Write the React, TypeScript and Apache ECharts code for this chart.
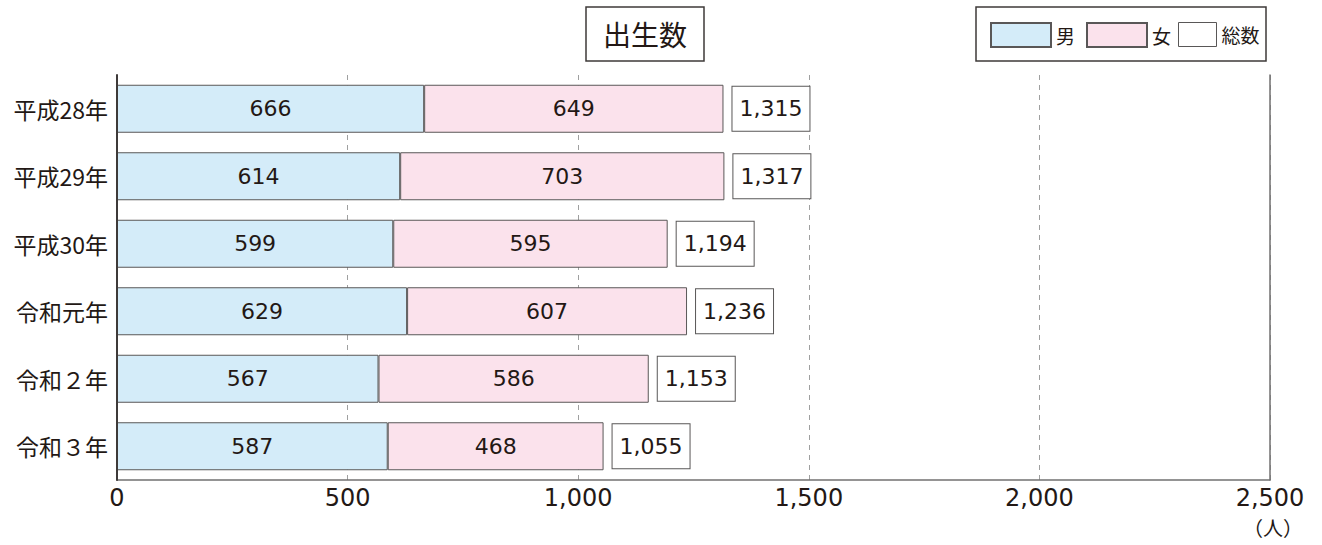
import React, { useEffect, useRef } from "react";
import * as echarts from "echarts";

const categories = ["平成28年", "平成29年", "平成30年", "令和元年", "令和２年", "令和３年"];
const maleValues = [666, 614, 599, 629, 567, 587];
const femaleValues = [649, 703, 595, 607, 586, 468];
const totalValues = [1315, 1317, 1194, 1236, 1153, 1055];
const xTicks = { min: 0, max: 2500, interval: 500 };

const TEXT = "#231815";
const CJK = "'Noto Sans CJK JP', 'Noto Sans', sans-serif";
const NUM = "'DejaVu Sans', sans-serif";

export default function App() {
  const ref = useRef<HTMLDivElement>(null);
  useEffect(() => {
    if (!ref.current) return;
    const chart = echarts.init(ref.current, undefined, { renderer: "svg" });
    const fmt = (v: number) => v.toLocaleString("en-US");
    chart.setOption({
      animation: false,
      backgroundColor: "#fff",
      title: {
        text: "出生数",
        left: 586,
        top: 7,
        padding: [13, 17, 13, 17],
        borderColor: "#3e3a39",
        borderWidth: 1.5,
        textStyle: { fontFamily: CJK, fontSize: 28, fontWeight: "normal", color: TEXT, lineHeight: 28 },
      },
      graphic: [
        {
          type: "rect",
          shape: { x: 976, y: 7, width: 290, height: 54 },
          style: { fill: "#fff", stroke: "#3e3a39", lineWidth: 1.5 },
          z: 0,
        },
        {
          type: "text",
          left: 1243,
          top: 517,
          style: { text: "（人）", fontFamily: CJK, fontSize: 20, fill: TEXT },
        },
      ],
      legend: [
        {
          left: 990,
          top: 22,
          padding: 0,
          itemWidth: 60,
          itemHeight: 24,
          itemGap: 11,
          icon: "rect",
          data: ["男", "女"],
          textStyle: { fontFamily: CJK, fontSize: 19, color: TEXT },
          z: 5,
        },
        {
          left: 1178,
          top: 22,
          padding: 0,
          itemWidth: 38,
          itemHeight: 24,
          icon: "rect",
          data: [{ name: "総数", itemStyle: { color: "#fff", borderColor: "#595757", borderWidth: 1 } }],
          textStyle: { fontFamily: CJK, fontSize: 19, color: TEXT },
          z: 5,
        },
      ],
      grid: { left: 117, right: 52, top: 75, bottom: 65, containLabel: false },
      xAxis: {
        type: "value",
        min: xTicks.min,
        max: xTicks.max,
        interval: xTicks.interval,
        axisLine: { show: true, lineStyle: { color: "#727171", width: 1.5 } },
        axisTick: { show: false },
        axisLabel: { formatter: fmt, fontFamily: NUM, fontSize: 24, color: TEXT, margin: 6 },
        splitLine: { show: true, lineStyle: { color: "#9fa0a0", type: [5, 5], width: 1 } },
      },
      yAxis: [
        {
          type: "category",
          data: categories,
          inverse: true,
          axisLine: { show: true, lineStyle: { color: "#3e3a39", width: 2 } },
          axisTick: { show: false },
          axisLabel: { fontFamily: CJK, fontSize: 23, color: TEXT, margin: 9 },
          z: 10,
        },
        {
          type: "value",
          position: "right",
          min: 0,
          max: 1,
          axisLine: { show: true, lineStyle: { color: "#727171", width: 1.5 } },
          axisTick: { show: false },
          axisLabel: { show: false },
          splitLine: { show: false },
        },
      ],
      series: [
        {
          name: "男",
          type: "bar",
          stack: "a",
          barWidth: 48,
          data: maleValues,
          itemStyle: { color: "#d4ecf9", borderColor: "#595757", borderWidth: 1 },
          label: { show: true, position: "inside", fontFamily: NUM, fontSize: 22, color: TEXT },
        },
        {
          name: "女",
          type: "bar",
          stack: "a",
          barWidth: 48,
          data: femaleValues,
          itemStyle: { color: "#fbe2ec", borderColor: "#595757", borderWidth: 1 },
          label: { show: true, position: "inside", fontFamily: NUM, fontSize: 22, color: TEXT },
        },
        {
          name: "総数",
          type: "bar",
          barWidth: 48,
          barGap: "-100%",
          data: totalValues,
          itemStyle: { color: "rgba(0,0,0,0)" },
          label: {
            show: true,
            position: "right",
            distance: 9,
            formatter: (p: any) => fmt(p.value),
            fontFamily: NUM,
            fontSize: 22,
            color: TEXT,
            backgroundColor: "#fff",
            borderColor: "#595757",
            borderWidth: 1,
            padding: [11, 7, 11, 7],
            lineHeight: 22,
          },
          z: 3,
        },
      ],
    });
    return () => chart.dispose();
  }, []);
  return (
    <div
      ref={ref}
      style={{ position: "absolute", left: 0, top: 0, width: 1322, height: 545 }}
    />
  );
}
